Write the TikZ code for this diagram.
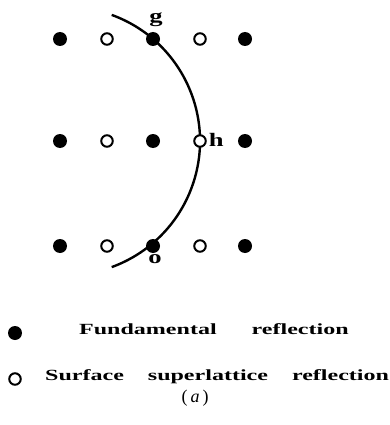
\documentclass[tikz,border=0pt]{standalone}
\usepackage{fontspec}
\setmainfont{Liberation Serif}
\usetikzlibrary{positioning}
\newcommand{\wide}[1]{\scalebox{1.55}[1]{#1}}
\newcommand{\widelbl}[1]{\scalebox{1.4}[1]{#1}}

\begin{document}
\begin{tikzpicture}[x=1pt, y=-1pt,
        fund/.style={circle, fill=black, minimum size=14pt, inner sep=0pt},
        surf/.style={circle, draw=black, fill=white, line width=2pt, minimum size=11.5pt, inner sep=0pt},
        lbl/.style={font=\fontsize{19pt}{19pt}\selectfont\bfseries, inner sep=1pt},
        leg/.style={font=\fontsize{15.5pt}{15.5pt}\selectfont\bfseries, anchor=base west, inner sep=0pt},
    ]
        \useasboundingbox (0,0) rectangle (389,425);

        % row 1 (top)
        \node[fund] (A1) at (60,39)  {};
        \node[surf] (A2) at (107,39) {};
        \node[fund] (A3) at (153,39) {};
        \node[surf] (A4) at (200,39) {};
        \node[fund] (A5) at (245,39) {};

        % row 2 (middle)
        \node[fund] (B1) at (60,141)  {};
        \node[surf] (B2) at (107,141) {};
        \node[fund] (B3) at (153,141) {};
        \node[fund] (B5) at (245,141) {};

        % row 3 (bottom)
        \node[fund] (C1) at (60,246)  {};
        \node[surf] (C2) at (107,246) {};
        \node[fund] (C3) at (153,246) {};
        \node[surf] (C4) at (200,246) {};
        \node[fund] (C5) at (245,246) {};

        % Ewald circle through o, h, g
        \coordinate (ctr) at (65.8,141);
        \draw[line width=2.4pt] ([shift={(-70:134.2)}]ctr) arc[start angle=-70, end angle=70, radius=134.2];
        \node[surf] (B4) at (200,141) {};

        \node[lbl, above=0pt of A3, xshift=3pt, yshift=4pt] (g) {\widelbl{g}};
        \node[lbl, right=1pt of B4, yshift=1pt] (h) {\widelbl{h}};
        \node[lbl, below=0pt of C3, xshift=2pt] (o) {\widelbl{o}};

        % legend
        \node[fund] (Lf) at (15,333) {};
        \node[surf] (Ls) at (15,379) {};
        \node[leg] (Lft) at (79,334) {\wide{Fundamental}\hspace{35pt}\wide{reflection}};
        \node[leg] (Lst) at (45,380) {\wide{Surface}\hspace{24pt}\wide{superlattice}\hspace{24pt}\wide{reflection}};
        \node[font=\fontsize{18pt}{18pt}\selectfont] (cap) at (195,398) {(\,\textit{a}\,)};
    \end{tikzpicture}
\end{document}
